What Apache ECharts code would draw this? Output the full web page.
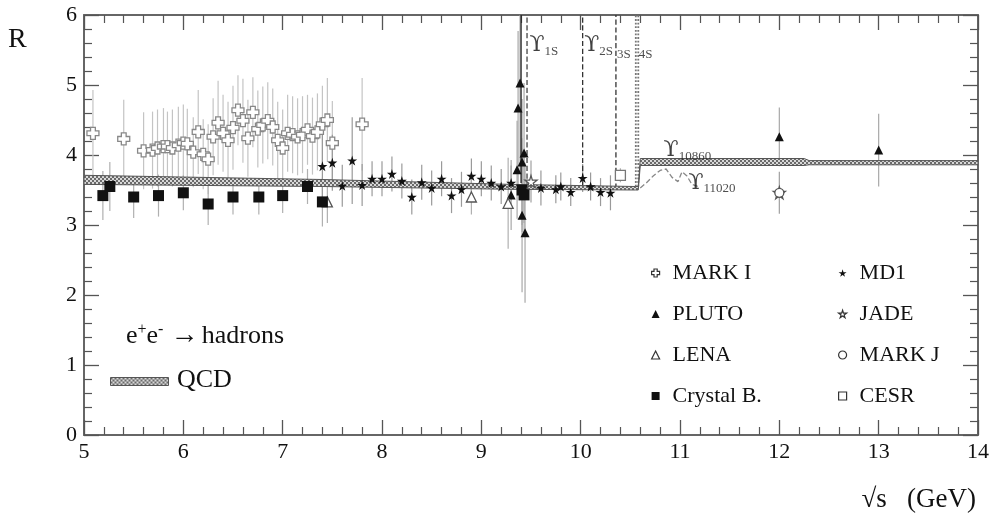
<!DOCTYPE html>
<html><head><meta charset="utf-8">
<script src="https://cdn.jsdelivr.net/npm/echarts@6/dist/echarts.min.js"></script>
<style>html,body{margin:0;padding:0;background:#fff}#c{width:992px;height:526px}</style>
</head><body><div id="c"></div>
<script>
// ---------- DATA ----------
const xTicks = [5,6,7,8,9,10,11,12,13,14];
const yTicks = [0,1,2,3,4,5,6];
// [sqrt(s), R, error]
const markI = [[5.09,4.31,0.62],[5.40,4.23,0.56],[5.60,4.06,0.55],[5.69,4.07,0.55],[5.74,4.10,0.55],[5.80,4.12,0.55],[5.84,4.12,0.5],[5.89,4.10,0.55],[5.95,4.14,0.55],[6.00,4.17,0.55],[6.04,4.16,0.5],[6.10,4.04,0.5],[6.15,4.33,0.6],[6.20,4.01,0.5],[6.25,3.94,0.5],[6.30,4.26,0.55],[6.35,4.46,0.6],[6.40,4.31,0.55],[6.45,4.21,0.55],[6.50,4.39,0.6],[6.55,4.64,0.5],[6.60,4.49,0.6],[6.65,4.24,0.55],[6.70,4.61,0.5],[6.75,4.37,0.55],[6.80,4.43,0.55],[6.85,4.49,0.55],[6.90,4.40,0.55],[6.95,4.21,0.55],[7.00,4.10,0.55],[7.05,4.31,0.55],[7.10,4.29,0.55],[7.15,4.26,0.55],[7.20,4.29,0.55],[7.25,4.36,0.5],[7.30,4.27,0.55],[7.35,4.33,0.55],[7.40,4.44,0.55],[7.45,4.50,0.6],[7.50,4.17,0.6],[7.80,4.44,0.66]];
const pluto = [[9.30,3.43,0.5],[9.36,3.79,0.7],[9.37,4.67,1.1],[9.39,5.03,1.3],[9.41,3.90,0.9],[9.43,4.03,1.0],[9.41,3.14,1.1],[9.44,2.89,1.0],[12.00,4.26,0.42],[13.00,4.07,0.52]];
const lena = [[7.45,3.33,0.3],[8.90,3.40,0.25],[9.27,3.31,0.65]];
const crystalB = [[5.19,3.42,0.35],[5.26,3.55,0.35],[5.50,3.40,0.3],[5.75,3.42,0.3],[6.00,3.46,0.25],[6.25,3.30,0.3],[6.50,3.40,0.25],[6.76,3.40,0.25],[7.00,3.42,0.25],[7.25,3.55,0.25],[7.40,3.33,0.35],[9.41,3.50,0.6],[9.43,3.43,0.6]];
const md1 = [[7.40,3.84,0.45],[7.50,3.89,0.4],[7.60,3.56,0.3],[7.70,3.92,0.62],[7.80,3.57,0.3],[7.90,3.66,0.25],[8.00,3.66,0.25],[8.10,3.73,0.25],[8.20,3.63,0.25],[8.30,3.40,0.25],[8.40,3.61,0.25],[8.50,3.53,0.25],[8.60,3.66,0.25],[8.70,3.42,0.25],[8.80,3.51,0.25],[8.90,3.70,0.25],[9.00,3.66,0.25],[9.10,3.60,0.25],[9.20,3.55,0.25],[9.30,3.60,0.25],[9.60,3.53,0.25],[9.75,3.51,0.2],[9.80,3.55,0.2],[9.90,3.47,0.2],[10.02,3.67,0.2],[10.10,3.55,0.2],[10.20,3.47,0.2],[10.30,3.46,0.25]];
const jade = [[9.50,3.62,0.3],[12.00,3.46,0.3]];
const markJ = [[12.00,3.46,0.3]];
const cesr = [[10.40,3.71,0.1]];
// QCD band
const qcdX  = [5.0, 7.4, 9.3, 10.55, 10.58, 10.60, 12.25, 12.30, 14.0];
const qcdLo = [3.58,3.55,3.51,3.50, 3.50, 3.85, 3.85, 3.86, 3.86];
const qcdHi = [3.71,3.65,3.58,3.55, 3.55, 3.95, 3.95, 3.92, 3.92];
// resonance lines
const ups1Solid = [[9.40,3.60],[9.40,6.0]];
const ups1 = [[9.46,3.55],[9.46,6.0]];
const ups2 = [[10.02,3.55],[10.02,6.0]];
const ups3 = [[10.355,3.52],[10.355,6.0]];
const ups4a = [[10.555,3.55],[10.555,6.0]];
const ups4b = [[10.58,3.55],[10.58,6.0]];
const upsHigh = [[10.60,3.53],[10.66,3.60],[10.73,3.70],[10.80,3.78],[10.86,3.80],[10.92,3.68],[10.98,3.62],[11.02,3.76],[11.07,3.70],[11.12,3.58],[11.18,3.55]];
// resonance labels [x, y, main, sub]
const upsLabels = [[9.48,5.57,'ϒ','1S'],[10.03,5.57,'ϒ','2S'],[10.36,5.52,'','3S'],[10.58,5.52,'','4S'],[10.83,4.07,'ϒ','10860'],[11.08,3.6,'ϒ','11020']];

// ---------- CHART ----------
const serif = 'Liberation Serif';
const chart = echarts.init(document.getElementById('c'));

const crossPath = 'path://M3,0 H7 V3 H10 V7 H7 V10 H3 V7 H0 V3 H3 Z';
const starPath = 'path://M50,0 L61,35 L98,35 L68,57 L79,91 L50,70 L21,91 L32,57 L2,35 L39,35 Z';

function errSeries(data, color){
  return {type:'custom', data:data, z:2, silent:true, clip:true,
    renderItem:function(params, api){
      const x=api.value(0), y=api.value(1), e=api.value(2);
      const a=api.coord([x,y-e]), b=api.coord([x,y+e]);
      return {type:'line', shape:{x1:a[0],y1:a[1],x2:b[0],y2:b[1]}, style:{stroke:color,lineWidth:1.2}};
    }};
}
function pts(name, data, symbol, size, fill, border){
  return {type:'scatter', name:name, data:data.map(d=>[d[0],d[1]]), symbol:symbol, symbolSize:size, z:5,
    itemStyle:{color:fill, borderColor:border, borderWidth: fill==='#fff'?1.3:0, opacity:1}};
}
function vline(data, style, color, width){
  return {type:'line', data:data, symbol:'none', z:3, silent:true, lineStyle:{type:style,color:color,width:width}};
}
const openIcon = {color:'#fff', borderColor:'#333', borderWidth:1.2};

// pattern for QCD band
const pc = document.createElement('canvas'); pc.width=4; pc.height=4;
const pctx = pc.getContext('2d');
pctx.fillStyle='#d8d8d8'; pctx.fillRect(0,0,4,4);
pctx.fillStyle='#6a6a6a'; pctx.fillRect(0,0,2,2); pctx.fillRect(2,2,2,2);

const bandSeries = {type:'custom', z:4, silent:true, data:[0], clip:true,
  renderItem:function(params, api){
    const pts=[];
    for(let i=0;i<qcdX.length;i++) pts.push(api.coord([qcdX[i],qcdHi[i]]));
    for(let i=qcdX.length-1;i>=0;i--) pts.push(api.coord([qcdX[i],qcdLo[i]]));
    return {type:'polygon', shape:{points:pts}, style:{fill:{image:pc,repeat:'repeat'}, stroke:'#555', lineWidth:1}};
  }};

const labelSeries = {type:'scatter', data:upsLabels.map(d=>[d[0],d[1],d[2],d[3]]), symbolSize:1, z:6, silent:true,
  itemStyle:{color:'rgba(0,0,0,0)'},
  label:{show:true, position:'right', distance:0, fontFamily:serif, color:'#111',
    formatter:function(p){const m=p.value[2], s=p.value[3]; return (m?'{u|'+m+'}':'')+'{s|'+s+'}';},
    rich:{u:{fontFamily:'DejaVu Serif',fontSize:22,color:'#111'}, s:{fontFamily:serif,fontSize:13,color:'#222',padding:[12,0,0,0]}}}};

const axisCommon = {type:'value', axisLine:{show:true, onZero:false, lineStyle:{color:'#666',width:2}},
  axisTick:{show:true, inside:true, length:15, lineStyle:{color:'#555',width:1.3}},
  minorTick:{show:true, splitNumber:5, length:8, lineStyle:{color:'#555',width:1.2}},
  splitLine:{show:false}, minorSplitLine:{show:false}};

chart.setOption({
  animation:false,
  grid:{left:84, right:12, top:15, bottom:91, containLabel:false},
  xAxis:[
    Object.assign({}, axisCommon, {min:5, max:14, interval:1, position:'bottom',
      axisLabel:{fontFamily:serif, fontSize:22, color:'#111', margin:6, formatter:v=>xTicks.includes(v)?String(v):''}}),
    Object.assign({}, axisCommon, {min:5, max:14, interval:1, position:'top', axisLabel:{show:false}})
  ],
  yAxis:[
    Object.assign({}, axisCommon, {min:0, max:6, interval:1, position:'left',
      axisLabel:{fontFamily:serif, fontSize:22, color:'#111', margin:7, formatter:v=>yTicks.includes(v)?String(v):''}}),
    Object.assign({}, axisCommon, {min:0, max:6, interval:1, position:'right', axisLabel:{show:false}})
  ],
  legend:[
    {orient:'vertical', left:646, top:256, itemWidth:8, itemHeight:8, itemGap:17, selectedMode:false,
     textStyle:{fontFamily:serif, fontSize:22, color:'#111', lineHeight:24, padding:[0,0,0,8]},
     data:[{name:'MARK I', itemStyle:openIcon},'PLUTO',{name:'LENA', itemStyle:openIcon},'Crystal B.']},
    {orient:'vertical', left:833, top:256, itemWidth:8, itemHeight:8, itemGap:17, selectedMode:false,
     textStyle:{fontFamily:serif, fontSize:22, color:'#111', lineHeight:24, padding:[0,0,0,8]},
     data:['MD1',{name:'JADE', itemStyle:openIcon},{name:'MARK J', itemStyle:openIcon},{name:'CESR', itemStyle:openIcon}]}
  ],
  graphic:[
    {type:'text', left:8, top:26, style:{text:'R', fontFamily:serif, fontSize:28, fill:'#111'}},
    {type:'text', right:16, top:486, style:{text:'√s   (GeV)', fontFamily:serif, fontSize:27, fill:'#111'}},
    {type:'text', left:126, top:322, style:{text:'{a|e}{p|+}{a|e}{p|-}{r| →} {a|hadrons}', fill:'#111',
      rich:{a:{fontFamily:serif,fontSize:26,fill:'#111'}, r:{fontFamily:serif,fontSize:28,fill:'#111'}, p:{fontFamily:serif,fontSize:16,fill:'#111',padding:[0,0,12,0]}}}},
    {type:'rect', left:110, top:377, shape:{width:58,height:8}, style:{fill:{image:pc,repeat:'repeat'}, stroke:'#555', lineWidth:1}},
    {type:'text', left:177, top:367, style:{text:'QCD', fontFamily:serif, fontSize:26, fill:'#111'}}
  ],
  series:[
    errSeries(markI,'#c4c4c4'),
    errSeries(crystalB,'#b0b0b0'),
    errSeries(md1,'#9a9a9a'),
    errSeries(pluto,'#a8a8a8'),
    errSeries(lena,'#b0b0b0'),
    errSeries(jade,'#a0a0a0'),
    errSeries(cesr,'#b0b0b0'),
    bandSeries,
    vline(ups1Solid,'solid','#222',1.3),
    vline(ups1,'dashed','#444',1.3),
    vline(ups2,'dashed','#333',1.3),
    vline(ups3,'dashed','#333',1.3),
    vline(ups4a,'dotted','#777',1.8),
    vline(ups4b,'dotted','#777',1.8),
    vline(upsHigh,'dashed','#888',1.3),
    pts('MARK I', markI, crossPath, 12, '#fff', '#888'),
    pts('PLUTO', pluto, 'triangle', 9, '#111', '#111'),
    pts('LENA', lena, 'triangle', 10, '#fff', '#555'),
    pts('Crystal B.', crystalB, 'rect', 11, '#111', '#111'),
    pts('MD1', md1, starPath, 10, '#111', '#111'),
    pts('JADE', jade, starPath, 12, '#fff', '#555'),
    pts('MARK J', markJ, 'circle', 9, '#fff', '#555'),
    pts('CESR', cesr, 'rect', 10, '#fff', '#777'),
    labelSeries
  ]
});
</script></body></html>
